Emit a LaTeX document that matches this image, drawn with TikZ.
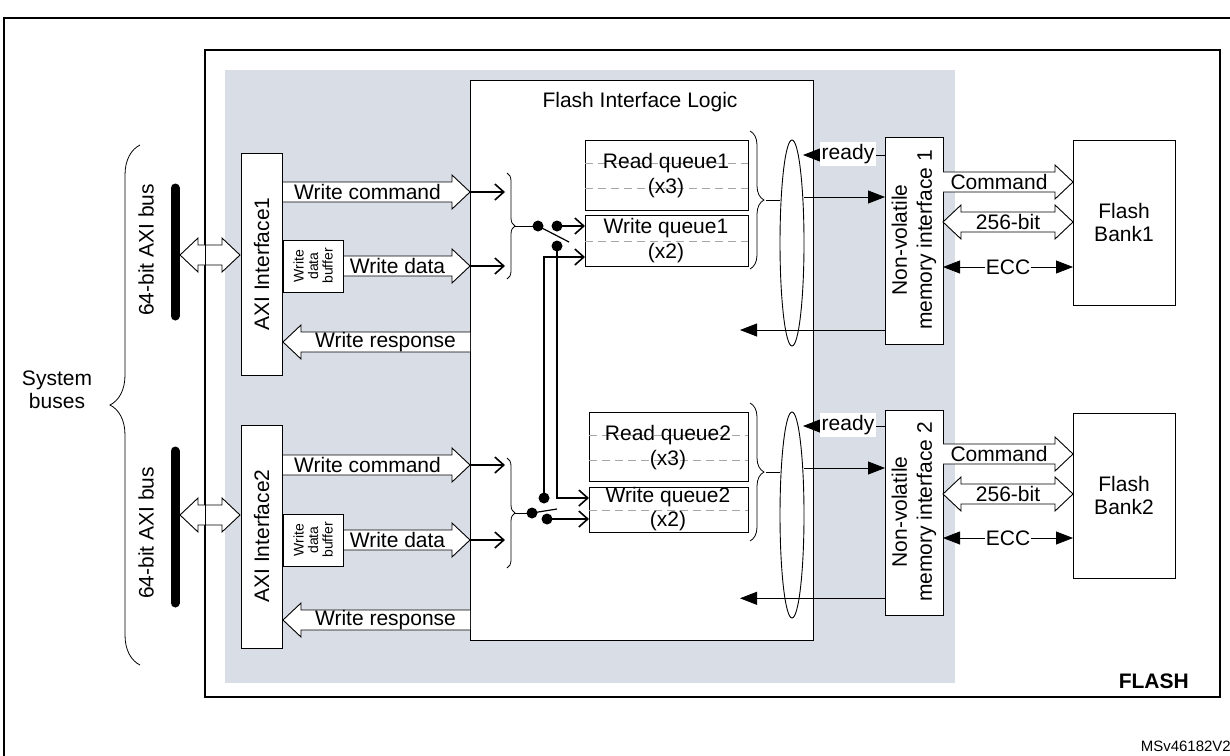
\documentclass[tikz,border=0pt]{standalone}
\usepackage{fontspec}
\setmainfont{Liberation Sans}
\usetikzlibrary{arrows.meta,decorations.pathreplacing,shapes.geometric}
\begin{document}
\begin{tikzpicture}[x=1pt,y=-1pt,
  box/.style={draw,fill=white,line width=1pt,inner sep=0pt},
  lbl/.style={font=\fontsize{21}{23}\selectfont,inner sep=1pt},
  small/.style={font=\fontsize{14}{14.5}\selectfont,align=center,inner sep=0pt},
  oarr/.style={line width=1.6pt,-{Straight Barb[length=9pt,width=16pt,line width=1.6pt]}},
  farr/.style={line width=0.8pt,-{Triangle[length=17pt,width=13pt]}},
  thick3/.style={line width=2.6pt},
  dot/.style={circle,fill=black,inner sep=0pt,minimum size=11pt},
  dsh/.style={draw=gray!70,dash pattern=on 8pt off 5pt,line width=0.9pt},
  hol/.style={draw,fill=white,line width=0.9pt}]
\fontsize{21}{24}\selectfont
\useasboundingbox (0,0) rectangle (1230,755);
% outer frame
\draw[line width=1.5pt] (4,760) -- (4,18) -- (1235,18);
\draw[line width=2pt] (205,50) rectangle (1220,697);
\fill[fill={rgb,255:red,217;green,221;blue,230}] (225,70) rectangle (955,683);
\node[lbl,anchor=south east] at (1190,690) {\textbf{FLASH}};
\node[anchor=south east,font=\fontsize{15}{16}\selectfont,inner sep=1pt] at (1232,753) {MSv46182V2};
% Flash interface logic
\draw[box,fill=white] (470,80) rectangle (813,640);
\node[lbl] (fil) at (640,102) {Flash Interface Logic};
% AXI interfaces
\draw[box] (241,153) rectangle (282,375);
\node[lbl,rotate=90] (axi1) at (261.5,264) {AXI Interface1};
\draw[box] (241,425) rectangle (282,648);
\node[lbl,rotate=90] (axi2) at (261.5,536) {AXI Interface2};
% hollow arrows
\newcommand\HR[4]{% x1 x2 y text : right arrow
  \draw[hol] (#1,#3-10)--(#2-18,#3-10)--(#2-18,#3-17)--(#2,#3)--(#2-18,#3+17)--(#2-18,#3+10)--(#1,#3+10);
  \node[lbl] at ({(#1+#2-18)/2},#3) {#4};}
\newcommand\HL[4]{% x1 x2 y text : left arrow, tip at x1
  \draw[hol] (#2,#3-10)--(#1+18,#3-10)--(#1+18,#3-17)--(#1,#3)--(#1+18,#3+17)--(#1+18,#3+10)--(#2,#3+10);
  \node[lbl] at ({(#1+18+#2)/2},#3) {#4};}
\newcommand\HD[4]{% double
  \draw[hol] (#1+18,#3-10)--(#2-18,#3-10)--(#2-18,#3-17)--(#2,#3)--(#2-18,#3+17)--(#2-18,#3+10)--(#1+18,#3+10)--(#1+18,#3+17)--(#1,#3)--(#1+18,#3-17)--cycle;
  \node[lbl] at ({(#1+#2)/2},#3) {#4};}
\HR{283}{470}{192}{Write command}
\HR{343}{470}{266}{Write data}
\HL{283}{470}{342}{Write response}
\HR{283}{470}{465}{Write command}
\HR{343}{470}{540}{Write data}
\HL{283}{470}{620}{Write response}
\draw[box] (283,240) rectangle (343,292);
\node[small,rotate=90] (wdb1) at (313,266) {Write\\data\\buffer};
\draw[box] (283,514) rectangle (343,566);
\node[small,rotate=90] (wdb2) at (313,540) {Write\\data\\buffer};
% system buses
\node[lbl,align=center] (sys) at (57,390) {System\\buses};
\draw[line width=0.8pt,decorate,decoration={brace,amplitude=30pt}] (140,665) -- (140,145);
\draw[line width=9pt,line cap=round] (175,188) -- (175,316);
\draw[line width=9pt,line cap=round] (175,451) -- (175,603);
\node[lbl,rotate=90] (b1) at (146,250) {64-bit AXI bus};
\node[lbl,rotate=90] (b2) at (146,533) {64-bit AXI bus};
\HD{180}{240}{255}{}
\HD{180}{240}{515}{}
\draw[line width=1pt] (205,238) -- (205,272) (205,498)--(205,532);
% small input arrows
\foreach \y in {192,266,465,540} \draw[oarr] (470,\y) -- (505,\y);
\draw[line width=0.8pt,decorate,decoration={brace,amplitude=8pt}] (507,173) -- (507,279);
\draw[line width=0.8pt,decorate,decoration={brace,amplitude=8pt}] (507,458) -- (507,568);
\draw[line width=0.8pt] (515,226) -- (538,226);
\draw[line width=0.8pt] (515,513) -- (532,513);
% queues
\draw[box] (585,140) rectangle (748,210);
\draw[dsh] (585,163)--(748,163) (585,188)--(748,188);
\node[lbl] (rq1) at (666,163) {Read queue1};
\node[lbl] at (666,188) {(x3)};
\draw[box] (585,215) rectangle (748,266);
\draw[dsh] (585,241)--(748,241);
\node[lbl] (wq1) at (666,228) {Write queue1};
\node[lbl] at (666,253) {(x2)};
\draw[box] (589,412) rectangle (748,481);
\draw[dsh] (589,435)--(748,435) (589,460)--(748,460);
\node[lbl] (rq2) at (668,435) {Read queue2};
\node[lbl] at (668,460) {(x3)};
\draw[box] (589,487) rectangle (748,532);
\draw[dsh] (589,510)--(748,510);
\node[lbl] (wq2) at (668,497) {Write queue2};
\node[lbl] at (668,521) {(x2)};
% switches
\node[dot] (s1in) at (538,226) {};
\node[dot] (s1a) at (557,226) {};
\node[dot] (s1b) at (557,246) {};
\node[dot] (s2in) at (532,513) {};
\node[dot] (s2a) at (544,498) {};
\node[dot] (s2b) at (547,519) {};
\draw[line width=1.2pt] (538,226) -- (569,242);
\draw[line width=1.2pt] (532,513) -- (557,509);
\draw[oarr] (s1a.center) -- (585,226);
\draw[thick3] (s1b.center) -- (557,498) -- (580,498);
\draw[oarr] (575,498) -- (589,498);
\draw[thick3] (s2a.center) -- (544,257) -- (578,257);
\draw[oarr] (572,257) -- (585,257);
\draw[thick3] (s2b.center) -- (580,519);
\draw[oarr] (575,519) -- (589,519);
% right braces and ellipses
\draw[line width=0.8pt,decorate,decoration={brace,amplitude=14pt}] (750,131) -- (750,269);
\draw[line width=0.8pt,decorate,decoration={brace,amplitude=14pt}] (750,403) -- (750,541);
\draw[line width=0.8pt] (766,200) -- (780,200) (766,472) -- (780,472);
\node[draw,ellipse,line width=0.9pt,minimum width=24pt,minimum height=206pt,inner sep=0pt] (el1) at (792,243) {};
\node[draw,ellipse,line width=0.9pt,minimum width=24pt,minimum height=206pt,inner sep=0pt] (el2) at (792,515) {};
% NVM interfaces
\draw[box] (885,137) rectangle (943,344);
\node[lbl,rotate=90,align=center,font=\fontsize{21}{25}\selectfont] (nvm1) at (914,240) {Non-volatile\\memory interface 1};
\draw[box] (885,410) rectangle (943,615);
\node[lbl,rotate=90,align=center,font=\fontsize{21}{25}\selectfont] (nvm2) at (914,512) {Non-volatile\\memory interface 2};
\foreach \o in {0,271}{
  \draw[farr] (885,155+\o) -- (803,155+\o);
  \node[lbl,fill=white,inner sep=2pt] at (848,154+\o) {ready};
  \draw[farr] (804,197+\o) -- (885,197+\o);
  \draw[farr] (885,330+\o*0.99) -- (740,330+\o*0.99);
}
% Flash banks
\draw[box] (1073,140) rectangle (1175,305);
\node[lbl,align=center] (fb1) at (1124,222) {Flash\\Bank1};
\draw[box] (1073,413) rectangle (1175,578);
\node[lbl,align=center] (fb2) at (1124,495) {Flash\\Bank2};
\HR{943}{1073}{182}{Command}
\HD{943}{1073}{222}{256-bit}
\HR{943}{1073}{454}{Command}
\HD{943}{1073}{494}{256-bit}
\foreach \y in {267,538}{
  \node[lbl] (ecc) at (1008,\y) {ECC};
  \draw[farr] (ecc.west) -- (943,\y);
  \draw[farr] (ecc.east) -- (1073,\y);
}
\end{tikzpicture}
\end{document}
